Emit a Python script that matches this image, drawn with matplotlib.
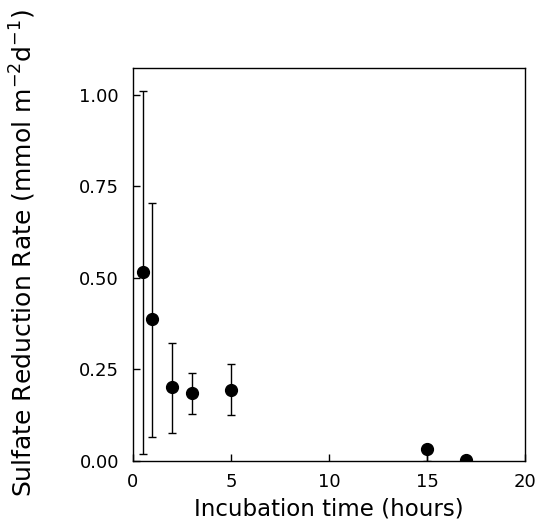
import matplotlib
matplotlib.use("Agg")
import matplotlib.pyplot as plt
import numpy as np

time_h = [0.5, 1.0, 2.0, 3.0, 5.0, 15.0, 17.0]
rate = [0.516, 0.389, 0.201, 0.185, 0.195, 0.034, 0.003]
err_low = [0.019, 0.066, 0.077, 0.128, 0.126, 0.0, 0.0]
err_high = [1.012, 0.706, 0.323, 0.240, 0.264, 0.034, 0.003]
xticks = [0, 5, 10, 15, 20]
yticks = [0.0, 0.25, 0.5, 0.75, 1.0]
ytick_labels = ["0.00", "0.25", "0.50", "0.75", "1.00"]

plt.rcParams['font.family'] = ['DejaVu Sans']

fig = plt.figure(figsize=(5.38, 5.26), dpi=100)
ax = fig.add_axes([0.247, 0.1236, 0.729, 0.7474])

r = np.array(rate)
lo = r - np.array(err_low)
hi = np.array(err_high) - r
ax.errorbar(time_h, rate, yerr=[lo, hi], fmt='o', color='black', ms=8.5,
            elinewidth=1.0, capsize=3, capthick=1.0)

ax.set_xlim(0, 20)
ax.set_ylim(0, 1.074)
ax.set_xticks(xticks)
ax.set_yticks(yticks)
ax.set_yticklabels(ytick_labels)
ax.tick_params(direction='in', length=5, width=1, labelsize=13, pad=10,
               top=False, right=False)
ax.tick_params(axis='x', pad=9)
for s in ax.spines.values():
    s.set_linewidth(1.0)

ax.set_xlabel("Incubation time (hours)", fontsize=16.5, labelpad=4)
ax.set_ylabel(r"Sulfate Reduction Rate (mmol m$^{-2}$d$^{-1}$)", fontsize=18)
ax.yaxis.set_label_coords(-0.243, 0.528)

fig.savefig("out.png", dpi=100)
